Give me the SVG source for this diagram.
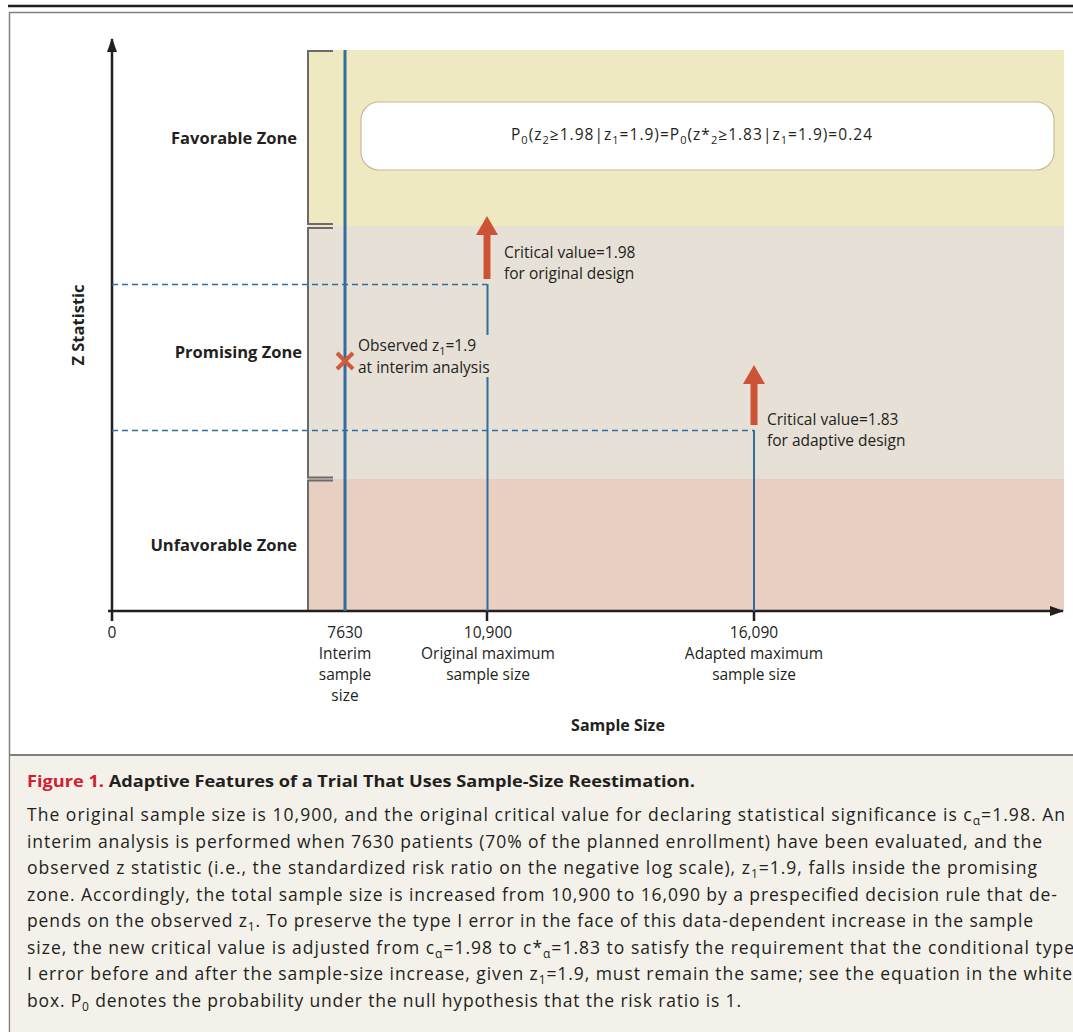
<svg xmlns="http://www.w3.org/2000/svg" width="1073" height="1032" viewBox="0 0 1073 1032">
<defs>
<style>
text{font-family:"Open Sans","Noto Sans","Liberation Sans",sans-serif;fill:#231f20}
.zl{font-size:16.5px;font-weight:700;text-anchor:end}
.lb{font-size:15.5px}
.ax{font-size:15.5px;text-anchor:middle}
.cap{font-size:17.5px}
.bracket{fill:none;stroke:#6b6b6b;stroke-width:2}
.blue{stroke:#2f6f9f;fill:none}
.dash{stroke:#2f6f9f;stroke-width:1.6;stroke-dasharray:6 4;fill:none}
.axis{stroke:#231f20;stroke-width:2.5;fill:none}
.red{fill:#cc5336}
</style>
<marker id="ah" markerWidth="14" markerHeight="10" refX="13" refY="5" orient="auto" markerUnits="userSpaceOnUse">
<path d="M0,0 L14,5 L0,10 Z" fill="#231f20"/>
</marker>
</defs>
<rect width="1073" height="1032" fill="#ffffff"/>
<!-- top rule and frame -->
<line x1="8" y1="6" x2="1073" y2="6" stroke="#231f20" stroke-width="2.5"/>
<rect x="9.5" y="12.5" width="1075" height="1030" fill="#ffffff" stroke="#808080" stroke-width="1.5"/>
<rect x="10.5" y="755" width="1070" height="290" fill="#f4f1eb"/>
<line x1="10" y1="755" x2="1073" y2="755" stroke="#808080" stroke-width="2"/>

<g id="zones">
<g id="zone-favorable">
<rect x="308" y="50" width="756" height="176" fill="#efe9c1"/>
<path class="bracket" d="M333,51 H308 V224 H333"/>
<text class="zl" x="297" y="144">Favorable Zone</text>
</g>
<g id="zone-promising">
<rect x="308" y="226" width="756" height="253" fill="#e6e0d6"/>
<path class="bracket" d="M333,228 H308 V477.5 H333"/>
<text class="zl" x="302" y="358">Promising Zone</text>
</g>
<g id="zone-unfavorable">
<rect x="308" y="479" width="756" height="132" fill="#e9cec2"/>
<path class="bracket" d="M333,480.5 H308 V611"/>
<text class="zl" x="297" y="551">Unfavorable Zone</text>
</g>
</g>

<g id="equation-box">
<rect x="361" y="102" width="693" height="68" rx="18" ry="18" fill="#ffffff" stroke="#c9b99b" stroke-width="1.2"/>
<text class="lb" x="511" y="140" textLength="361" lengthAdjust="spacing">P<tspan font-size="11" dy="4">0</tspan><tspan dy="-4">(z</tspan><tspan font-size="11" dy="4">2</tspan><tspan dy="-4">≥1.98|z</tspan><tspan font-size="11" dy="4">1</tspan><tspan dy="-4">=1.9)=P</tspan><tspan font-size="11" dy="4">0</tspan><tspan dy="-4">(z*</tspan><tspan font-size="11" dy="4">2</tspan><tspan dy="-4">≥1.83|z</tspan><tspan font-size="11" dy="4">1</tspan><tspan dy="-4">=1.9)=0.24</tspan></text>
</g>

<g id="connectors">
<!-- axes -->
<line class="axis" x1="112" y1="621" x2="112" y2="39" marker-end="url(#ah)"/>
<line class="axis" x1="108" y1="611" x2="1063" y2="611" marker-end="url(#ah)"/>
<line class="axis" x1="487" y1="611" x2="487" y2="621"/>
<line class="axis" x1="754" y1="611" x2="754" y2="621"/>
<!-- interim line -->
<line class="blue" x1="345" y1="50" x2="345" y2="611" stroke-width="3"/>
<!-- original design -->
<line class="dash" x1="112" y1="284.5" x2="487" y2="284.5"/>
<line class="blue" x1="487.5" y1="284" x2="487.5" y2="335" stroke-width="2"/>
<line class="blue" x1="487.5" y1="377" x2="487.5" y2="611" stroke-width="2"/>
<!-- adaptive design -->
<line class="dash" x1="112" y1="430.5" x2="754" y2="430.5"/>
<line class="blue" x1="754" y1="430" x2="754" y2="611" stroke-width="2"/>
<!-- red arrows -->
<path class="red" d="M487,216 L498,235 L490.5,235 L490.5,279 L483.5,279 L483.5,235 L476,235 Z"/>
<path class="red" d="M754,365 L765,384 L757.5,384 L757.5,425 L750.5,425 L750.5,384 L743,384 Z"/>
</g>

<g id="marker-observed">
<path d="M337,353 L353,369 M353,353 L337,369" stroke="#d05a3c" stroke-width="4"/>
<text class="lb" x="358" y="351">Observed z<tspan font-size="11" dy="4">1</tspan><tspan dy="-4">=1.9</tspan></text>
<text class="lb" x="358" y="373">at interim analysis</text>
</g>

<g id="label-original">
<text class="lb" x="504" y="258">Critical value=1.98</text>
<text class="lb" x="504" y="279">for original design</text>
</g>
<g id="label-adaptive">
<text class="lb" x="767" y="425">Critical value=1.83</text>
<text class="lb" x="767" y="446">for adaptive design</text>
</g>

<g id="x-labels">
<text class="ax" x="112" y="638">0</text>
<text class="ax" x="345" y="638">7630</text>
<text class="ax" x="345" y="659">Interim</text>
<text class="ax" x="345" y="680">sample</text>
<text class="ax" x="345" y="701">size</text>
<text class="ax" x="488" y="638">10,900</text>
<text class="ax" x="488" y="659">Original maximum</text>
<text class="ax" x="488" y="680">sample size</text>
<text class="ax" x="754" y="638">16,090</text>
<text class="ax" x="754" y="659">Adapted maximum</text>
<text class="ax" x="754" y="680">sample size</text>
<text x="618" y="731" font-size="16" font-weight="700" text-anchor="middle">Sample Size</text>
<text x="0" y="0" font-size="16.5" font-weight="700" text-anchor="middle" transform="translate(84,325) rotate(-90)">Z Statistic</text>
</g>

<g id="caption">
<text x="27" y="787" font-size="16.5" font-weight="700" textLength="668" lengthAdjust="spacingAndGlyphs"><tspan fill="#d2202f">Figure 1.</tspan> Adaptive Features of a Trial That Uses Sample-Size Reestimation.</text>
<text class="cap" x="27" y="821" textLength="1038" lengthAdjust="spacing">The original sample size is 10,900, and the original critical value for declaring statistical significance is c<tspan font-size="12" dy="4">α</tspan><tspan dy="-4">=1.98. An</tspan></text>
<text class="cap" x="27" y="847.5" textLength="1015" lengthAdjust="spacing">interim analysis is performed when 7630 patients (70% of the planned enrollment) have been evaluated, and the</text>
<text class="cap" x="27" y="874" textLength="1010" lengthAdjust="spacing">observed z statistic (i.e., the standardized risk ratio on the negative log scale), z<tspan font-size="12" dy="4">1</tspan><tspan dy="-4">=1.9, falls inside the promising</tspan></text>
<text class="cap" x="27" y="900.5" textLength="1030" lengthAdjust="spacing">zone. Accordingly, the total sample size is increased from 10,900 to 16,090 by a prespecified decision rule that de-</text>
<text class="cap" x="27" y="927" textLength="1006" lengthAdjust="spacing">pends on the observed z<tspan font-size="12" dy="4">1</tspan><tspan dy="-4">. To preserve the type I error in the face of this data-dependent increase in the sample</tspan></text>
<text class="cap" x="27" y="953.5" textLength="1047" lengthAdjust="spacing">size, the new critical value is adjusted from c<tspan font-size="12" dy="4">α</tspan><tspan dy="-4">=1.98 to c*</tspan><tspan font-size="12" dy="4">α</tspan><tspan dy="-4">=1.83 to satisfy the requirement that the conditional type</tspan></text>
<text class="cap" x="27" y="980" textLength="1045" lengthAdjust="spacing">I error before and after the sample-size increase, given z<tspan font-size="12" dy="4">1</tspan><tspan dy="-4">=1.9, must remain the same; see the equation in the white</tspan></text>
<text class="cap" x="27" y="1006.5" textLength="714" lengthAdjust="spacing">box. P<tspan font-size="12" dy="4">0</tspan><tspan dy="-4"> denotes the probability under the null hypothesis that the risk ratio is 1.</tspan></text>
</g>
</svg>
